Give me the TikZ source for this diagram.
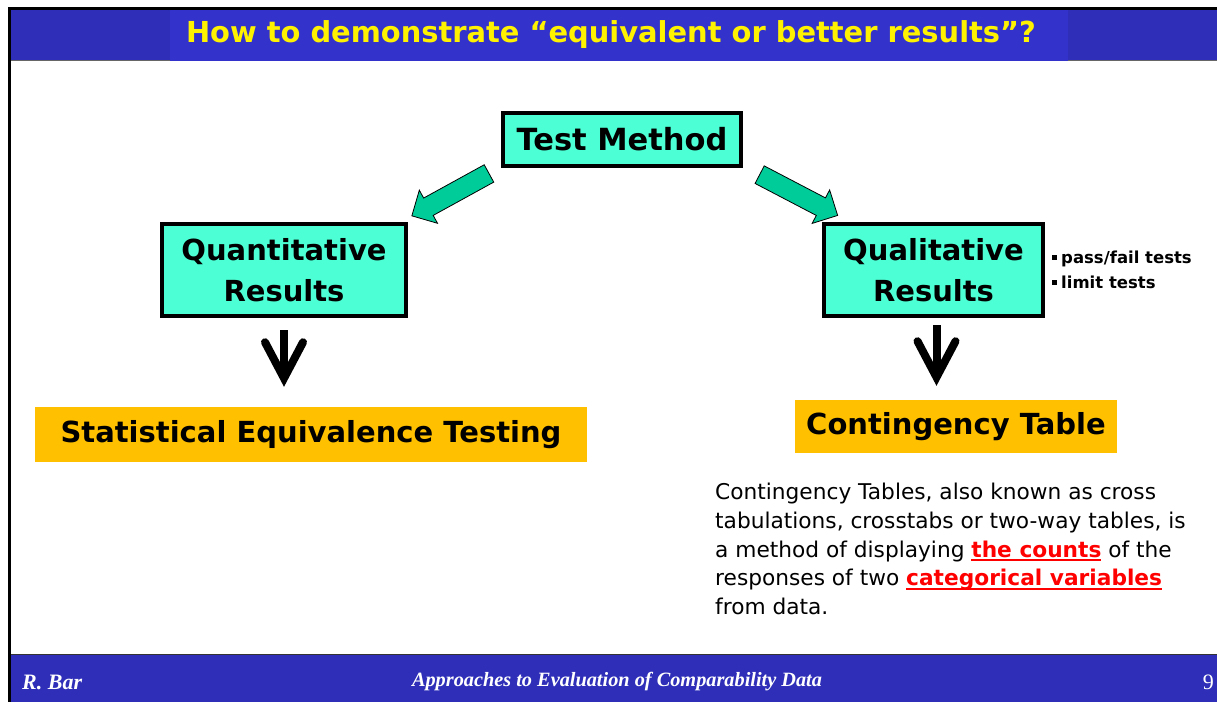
\documentclass[tikz,border=0pt]{standalone}
\usepackage{fontspec}
\setmainfont{DejaVu Sans}
\newfontfamily\footfont{Liberation Serif}
\usepackage{tikz}
\usetikzlibrary{shapes.arrows, arrows.meta}
\definecolor{bandblue}{HTML}{2E2EB8}
\definecolor{titleblue}{HTML}{3333CC}
\definecolor{aqua}{HTML}{4DFFD4}
\definecolor{seagreen}{HTML}{00CC99}
\definecolor{amber}{HTML}{FFC000}
\newcommand{\sqbullet}{\raisebox{4pt}{\rule{5pt}{5pt}}\hspace{4pt}}
\newcommand{\redmark}[1]{\textcolor{red}{\bfseries\setbox0\hbox{#1}\rlap{\rule[-4pt]{\wd0}{1.8pt}}\box0}}
\tikzstyle{method} = [rectangle, draw=black, line width=4pt, fill=aqua, align=center, font=\fontsize{29}{41}\selectfont\bfseries, inner sep=0pt]
\tikzstyle{result} = [rectangle, fill=amber, align=center, font=\fontsize{29}{34}\selectfont\bfseries, inner sep=0pt]
\tikzstyle{greenarrow} = [single arrow, draw=black, line width=0.8pt, fill=seagreen, inner sep=0pt, inner ysep=9.5pt, single arrow head extend=9pt, minimum height=88pt]
\tikzstyle{downarrow} = [line width=8pt, -{Straight Barb[length=36pt, width=38pt, line cap=round]}]

\begin{document}
\begin{tikzpicture}[x=1pt, y=-1pt]
\useasboundingbox (0,0) rectangle (1217,702);
\fill[white] (0,0) rectangle (1217,702);
% slide frame
\fill[bandblue] (11,10) rectangle (1217,60);
\fill[titleblue] (170,10) rectangle (1068,61);
\draw[black!60, line width=1.5pt] (11,60.5) -- (170,60.5) (1068,60.5) -- (1217,60.5);
\fill[bandblue] (11,655) rectangle (1217,702);
\draw[black!80, line width=1pt] (11,654.5) -- (1217,654.5);
\fill[black] (8,7) rectangle (1217,10);
\fill[black] (8,7) rectangle (11,702);

\node (title) at (611,35) [text=yellow, font=\fontsize{28.9}{30}\selectfont\bfseries] {How to demonstrate “equivalent or better results”?};

\node (test) at (622,139.5) [method, minimum width=238pt, minimum height=53pt, font=\fontsize{30.5}{36}\selectfont\bfseries] {Test Method};
\node (quant) at (284,270) [method, minimum width=244pt, minimum height=92pt] {Quantitative\\Results};
\node (qual) at (933.5,270) [method, minimum width=219pt, minimum height=92pt] {Qualitative\\Results};
\node (kinds) at (1052,270) [anchor=west, align=left, font=\fontsize{16.5}{25}\selectfont\bfseries, inner sep=0pt] {\sqbullet pass/fail tests\\\sqbullet limit tests};

\node (arrowL) at (454.75,192.25) [greenarrow, rotate=208.8] {};
\node (arrowR) at (794.25,192.75) [greenarrow, rotate=-27.6] {};

\node (stat) at (311,434.5) [result, minimum width=552pt, minimum height=55pt] {Statistical Equivalence Testing};
\node (cont) at (956,426.5) [result, minimum width=322pt, minimum height=53pt] {Contingency Table};

\draw [downarrow] ([yshift=-12pt]quant.south) -- ([yshift=20pt]quant.south |- stat.north);
\draw [downarrow] ([xshift=3pt, yshift=-7pt]qual.south) -- ([xshift=3pt, yshift=14pt]qual.south |- cont.north);

\node (note) at (715,483) [anchor=north west, align=left, inner sep=0pt, font=\fontsize{21.7}{28.7}\selectfont] {Contingency Tables, also known as cross\\tabulations, crosstabs or two-way tables, is\\a method of displaying \redmark{the counts} of the\\responses of two \redmark{categorical variables}\\from data.};

% footer
\node (author) at (22,682) [anchor=west, inner sep=0pt, text=white, font=\footfont\fontsize{22}{24}\selectfont\bfseries\itshape] {R. Bar};
\node (talk) at (617,682) [text=white, font=\footfont\fontsize{20.3}{22}\selectfont\bfseries\itshape] {Approaches to Evaluation of Comparability Data};
\node (page) at (1214,682) [anchor=east, inner sep=0pt, text=white, font=\footfont\fontsize{22}{24}\selectfont] {9};
\end{tikzpicture}
\end{document}
